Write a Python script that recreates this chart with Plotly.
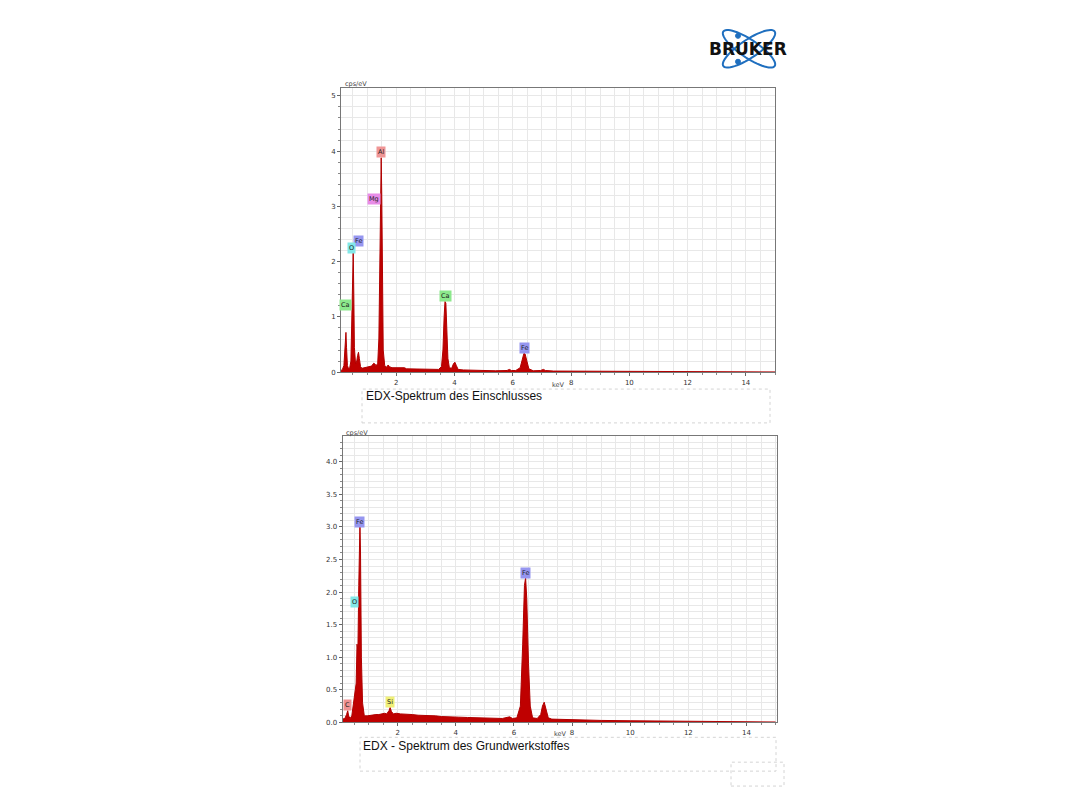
import numpy as np
import plotly.graph_objects as go

# ---------------- data ----------------
top_energy = [0.10, 0.15, 0.20, 0.23, 0.26, 0.27, 0.29, 0.32, 0.36, 0.40, 0.44, 0.47, 0.50, 0.52, 0.54,
              0.56, 0.60, 0.64, 0.67, 0.70, 0.73, 0.77, 0.82, 0.90, 1.00, 1.08, 1.15, 1.22, 1.26, 1.30,
              1.36, 1.40, 1.43, 1.46, 1.48, 1.50, 1.52, 1.55, 1.60, 1.66, 1.72, 1.76, 1.85, 1.95, 2.05,
              2.15, 2.28, 2.35, 2.50, 2.70, 2.90, 3.10, 3.30, 3.45, 3.55, 3.60, 3.64, 3.67, 3.70, 3.73,
              3.77, 3.82, 3.90, 3.96, 4.01, 4.06, 4.12, 4.30, 4.60, 5.00, 5.40, 5.80, 5.88, 5.95, 6.10,
              6.25, 6.32, 6.38, 6.42, 6.48, 6.55, 6.70, 6.95, 7.05, 7.12, 7.40, 8.0, 9.0, 10.0, 11.0,
              12.0, 13.0, 14.0, 15.0]
top_counts = [0.03, 0.05, 0.12, 0.35, 0.62, 0.72, 0.45, 0.12, 0.06, 0.08, 0.20, 0.80, 1.70, 2.16, 1.40,
              0.45, 0.15, 0.20, 0.30, 0.36, 0.25, 0.10, 0.07, 0.08, 0.09, 0.10, 0.11, 0.16, 0.15, 0.12,
              0.15, 0.60, 1.80, 3.50, 3.88, 3.20, 1.60, 0.40, 0.12, 0.09, 0.13, 0.10, 0.08, 0.08, 0.07,
              0.07, 0.08, 0.06, 0.06, 0.06, 0.05, 0.05, 0.05, 0.05, 0.10, 0.40, 1.00, 1.28, 1.25, 0.80,
              0.25, 0.08, 0.07, 0.15, 0.18, 0.12, 0.05, 0.04, 0.035, 0.03, 0.025, 0.03, 0.05, 0.03, 0.03,
              0.08, 0.25, 0.34, 0.33, 0.22, 0.06, 0.025, 0.03, 0.05, 0.03, 0.02, 0.018, 0.015, 0.012, 0.01,
              0.008, 0.006, 0.005, 0.004]

bottom_energy = [0.10, 0.18, 0.24, 0.28, 0.31, 0.36, 0.42, 0.48, 0.53, 0.57, 0.60, 0.63, 0.66, 0.69, 0.70,
                 0.72, 0.75, 0.79, 0.85, 0.95, 1.05, 1.15, 1.25, 1.35, 1.45, 1.55, 1.62, 1.70, 1.74, 1.78,
                 1.85, 1.95, 2.10, 2.30, 2.50, 2.70, 2.90, 3.10, 3.30, 3.50, 3.70, 3.90, 4.10, 4.40, 4.70,
                 5.00, 5.30, 5.60, 5.85, 5.95, 6.10, 6.22, 6.30, 6.36, 6.40, 6.44, 6.50, 6.56, 6.64, 6.80,
                 6.92, 6.98, 7.04, 7.10, 7.18, 7.30, 7.60, 8.00, 8.50, 9.00, 10.0, 11.0, 12.0, 13.0, 14.0,
                 15.0]
bottom_counts = [0.05, 0.06, 0.12, 0.18, 0.10, 0.06, 0.10, 0.30, 0.45, 0.60, 1.20, 1.10, 2.10, 2.75, 3.05,
                 2.60, 1.00, 0.30, 0.10, 0.10, 0.11, 0.11, 0.12, 0.12, 0.13, 0.14, 0.13, 0.18, 0.23, 0.17,
                 0.13, 0.14, 0.13, 0.13, 0.12, 0.11, 0.11, 0.10, 0.10, 0.09, 0.09, 0.085, 0.08, 0.075, 0.07,
                 0.065, 0.06, 0.06, 0.085, 0.06, 0.07, 0.25, 1.20, 2.10, 2.22, 1.90, 0.90, 0.25, 0.07, 0.06,
                 0.12, 0.25, 0.31, 0.22, 0.07, 0.05, 0.045, 0.04, 0.035, 0.03, 0.025, 0.02, 0.015, 0.01, 0.008,
                 0.006]

top_labels = ["Al", "Mg", "Fe", "O", "Ca", "Ca", "Fe"]
top_label_x = [1.48, 1.22, 0.69, 0.46, 0.26, 3.69, 6.40]
top_label_y = [3.98, 3.14, 2.37, 2.25, 1.22, 1.38, 0.43]

bottom_labels = ["Fe", "O", "C", "Si", "Fe"]
bottom_label_x = [0.70, 0.50, 0.27, 1.74, 6.40]
bottom_label_y = [3.08, 1.84, 0.26, 0.31, 2.30]

element_colors = {"Al": "rgb(240,150,150)", "Mg": "rgb(232,140,232)", "Fe": "rgb(150,150,240)",
                  "O": "rgb(130,232,232)", "Ca": "rgb(140,232,140)", "C": "rgb(240,145,145)",
                  "Si": "rgb(240,240,120)"}

x_tick_vals = [2, 4, 6, 8, 10, 12, 14]
top_y_ticks = [0, 1, 2, 3, 4, 5]
bottom_y_ticks = [0.0, 0.5, 1.0, 1.5, 2.0, 2.5, 3.0, 3.5, 4.0]

# ---------------- figure ----------------
OFF_X = 8
OFF_Y = 5
W, H = 1080 - 2 * OFF_X, 810 - 2 * OFF_X
def px(x):
    return (x - OFF_X) / W
def py(y):
    return 1 - (y - OFF_Y) / H

RED = "#bf0000"
fig = go.Figure()
fig.add_trace(go.Scatter(x=top_energy, y=top_counts, mode="lines", fill="tozeroy",
                         fillcolor=RED, line=dict(color="#b00000", width=1),
                         xaxis="x", yaxis="y", showlegend=False, hoverinfo="skip"))
fig.add_trace(go.Scatter(x=bottom_energy, y=bottom_counts, mode="lines", fill="tozeroy",
                         fillcolor=RED, line=dict(color="#b00000", width=1),
                         xaxis="x2", yaxis="y2", showlegend=False, hoverinfo="skip"))

tickfont = dict(family="DejaVu Sans, sans-serif", size=7, color="#333")
gridc = "#e8e8e8"

def xaxis_cfg(domain, rng, anchor):
    return dict(domain=domain, range=rng, anchor=anchor, tickvals=x_tick_vals,
                ticktext=[str(v) for v in x_tick_vals], tickfont=tickfont,
                showgrid=True, gridcolor=gridc, gridwidth=1,
                ticks="outside", ticklen=3, tickcolor="#666",
                minor=dict(dtick=0.5, tick0=0, showgrid=True, gridcolor=gridc, ticks="outside",
                           ticklen=2, tickcolor="#888"),
                showline=True, linecolor="#777", linewidth=1, mirror=True, zeroline=False,
                fixedrange=True)

def yaxis_cfg(domain, rng, anchor, ticks, minor_dt, fmt):
    return dict(domain=domain, range=rng, anchor=anchor, tickvals=ticks,
                ticktext=[fmt.format(v) for v in ticks], tickfont=tickfont,
                showgrid=True, gridcolor=gridc, gridwidth=1,
                ticks="outside", ticklen=3, tickcolor="#666",
                minor=dict(dtick=minor_dt, tick0=0, showgrid=True, gridcolor=gridc, ticks="outside",
                           ticklen=2, tickcolor="#888"),
                showline=True, linecolor="#777", linewidth=1, mirror=True, zeroline=False,
                fixedrange=True)

fig.update_layout(
    width=W, height=H, margin=dict(l=0, r=0, t=0, b=0),
    paper_bgcolor="white", plot_bgcolor="white",
    xaxis=xaxis_cfg([px(341), px(775)], [0.1, 15.0], "y"),
    yaxis=yaxis_cfg([py(371), py(85)], [0, 5.15], "x", top_y_ticks, 0.2, "{:d}"),
    xaxis2=xaxis_cfg([px(342.5), px(777)], [0.1, 15.05], "y2"),
    yaxis2=yaxis_cfg([py(723), py(435.5)], [0, 4.39], "x2", bottom_y_ticks, 0.1, "{:.1f}"),
)

annotations = []
def add_labels(labels, xs, ys, xref, yref):
    for lab, x, y in zip(labels, xs, ys):
        annotations.append(dict(x=x, y=y, xref=xref, yref=yref, text=lab, showarrow=False,
                                font=dict(family="DejaVu Sans, sans-serif", size=6.5, color="#222"),
                                bgcolor=element_colors[lab], borderpad=1,
                                xanchor="center", yanchor="middle"))
add_labels(top_labels, top_label_x, top_label_y, "x", "y")
add_labels(bottom_labels, bottom_label_x, bottom_label_y, "x2", "y2")

small = dict(family="DejaVu Sans, sans-serif", size=6.5, color="#444")
for (x, y, t) in [(343, 81, "cps/eV"), (344, 432, "cps/eV")]:
    annotations.append(dict(x=px(x), y=py(y), xref="paper", yref="paper", text=t, showarrow=False,
                            font=small, xanchor="left", yanchor="middle"))
for (x, y) in [(558, 384), (560, 735)]:
    annotations.append(dict(x=px(x), y=py(y), xref="paper", yref="paper", text="keV", showarrow=False,
                            font=small, xanchor="center", yanchor="middle"))

cap_font = dict(family="Liberation Sans, Arial, sans-serif", size=12, color="#111")
annotations.append(dict(x=px(364), y=py(395), xref="paper", yref="paper",
                        text="EDX-Spektrum des Einschlusses", showarrow=False, font=cap_font,
                        xanchor="left", yanchor="middle"))
annotations.append(dict(x=px(361), y=py(747), xref="paper", yref="paper",
                        text="EDX - Spektrum des Grundwerkstoffes", showarrow=False, font=cap_font,
                        xanchor="left", yanchor="middle"))

# Bruker logo text
annotations.append(dict(x=px(748), y=py(46), xref="paper", yref="paper", text="<b>BRUKER</b>",
                        showarrow=False, font=dict(family="DejaVu Sans, sans-serif", size=17, color="#111"),
                        xanchor="center", yanchor="middle"))
fig.update_layout(annotations=annotations)

shapes = []
# dotted caption boxes
for (x0, y0, x1, y1) in [(362, 388, 770, 422), (360, 738, 776, 772), (731, 763, 784, 787)]:
    shapes.append(dict(type="rect", xref="paper", yref="paper", x0=px(x0), x1=px(x1),
                       y0=py(y1), y1=py(y0), line=dict(color="#d4d4d4", width=1, dash="dot"),
                       fillcolor="rgba(0,0,0,0)", layer="below"))

# logo orbits (decorative)
cx, cy = 749, 46
t = np.linspace(0, 2 * np.pi, 60)
for ang in (np.deg2rad(34), np.deg2rad(-34)):
    a, b = 31, 9
    xs = cx + a * np.cos(t) * np.cos(ang) - b * np.sin(t) * np.sin(ang)
    ys = cy + a * np.cos(t) * np.sin(ang) + b * np.sin(t) * np.cos(ang)
    path = "M " + " L ".join(f"{px(x):.5f},{py(y):.5f}" for x, y in zip(xs, ys)) + " Z"
    shapes.append(dict(type="path", xref="paper", yref="paper", path=path,
                       line=dict(color="#1f6fbf", width=2), fillcolor="rgba(0,0,0,0)", layer="below"))
for (dx, dy) in [(738, 33), (738, 59)]:
    shapes.append(dict(type="circle", xref="paper", yref="paper", x0=px(dx - 2.5), x1=px(dx + 2.5),
                       y0=py(dy + 2.5), y1=py(dy - 2.5), line=dict(color="#1f6fbf", width=1),
                       fillcolor="#1f6fbf"))
fig.update_layout(shapes=shapes)

fig.write_html("out.html")
